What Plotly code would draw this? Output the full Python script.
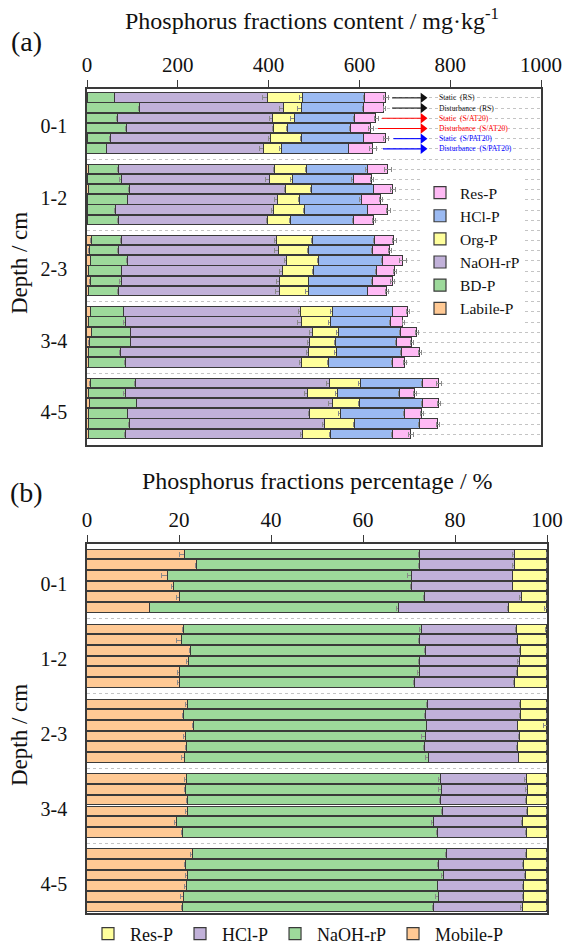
import plotly.graph_objects as go

# ---------------- data ----------------
depths = ["0-1", "1-2", "2-3", "3-4", "4-5"]
treatments = ["Static  (RS)", "Disturbance  (RS)", "Static  (S/AT20)",
              "Disturbance  (S/AT20)", "Static  (S/PAT20)", "Disturbance  (S/PAT20)"]
treatment_colors = ["#111111", "#111111", "#ff0000", "#ff0000", "#0000ff", "#0000ff"]

# Panel (a): content, mg/kg  (6 treatments per depth, depths 0-1 ... 4-5)
labile_p = [2, 1, 1, 1, 3, 1,   5, 2, 5, 2, 3, 2,   10, 6, 8, 4, 8, 5,
            8, 5, 12, 6, 4, 4,  8, 5, 7, 4, 4, 4]
bd_p = [60, 116, 67, 86, 50, 44,   66, 74, 90, 89, 61, 69,   66, 65, 83, 74, 68, 66,
        74, 80, 86, 91, 71, 81,   100, 81, 104, 87, 91, 82]
naoh_rp = [336, 317, 341, 325, 352, 344,   343, 326, 344, 329, 348, 327,
           342, 351, 349, 353, 348, 353,   390, 388, 399, 395, 413, 388,
           428, 401, 431, 401, 430, 390]
org_p = [77, 39, 50, 30, 68, 40,   70, 51, 56, 50, 69, 51,   79, 68, 72, 68, 66, 65,
         69, 64, 59, 57, 63, 59,   67, 65, 60, 68, 66, 61]
hcl_p = [138, 138, 132, 139, 138, 149,   134, 134, 138, 136, 139, 138,
         138, 139, 140, 140, 140, 131,   134, 132, 136, 134, 143, 142,
         137, 137, 138, 140, 142, 138]
res_p = [46, 44, 46, 45, 48, 52,   45, 41, 41, 42, 44, 45,   42, 39, 44, 40, 43, 41,
         32, 28, 35, 33, 40, 26,   35, 34, 35, 38, 40, 39]

labile_err = [1, 1, 1, 1, 1, 1,  1, 1, 1, 1, 1, 1,  2, 2, 1, 1, 2, 1,
              1, 1, 2, 2, 1, 1,  2, 1, 1, 1, 1, 1]
bd_err = [2, 3, 3, 3, 4, 2,  3, 5, 4, 2, 3, 3,  3, 3, 4, 2, 5, 3,
          2, 4, 3, 2, 3, 3,  3, 5, 2, 2, 3, 4]
naoh_err = [12, 10, 6, 4, 5, 10,  3, 8, 4, 6, 5, 3,  6, 8, 5, 8, 6, 9,
            7, 9, 8, 6, 5, 6,  9, 7, 10, 4, 6, 5]
org_err = [6, 10, 10, 3, 3, 6,  3, 5, 3, 4, 5, 3,  3, 5, 4, 3, 3, 8,
           4, 5, 6, 3, 5, 3,  6, 4, 3, 5, 4, 2]
hcl_err = [4, 4, 3, 3, 3, 3,  4, 5, 3, 5, 3, 3,  4, 3, 3, 3, 3, 3,
           3, 3, 3, 3, 3, 3,  3, 3, 3, 3, 3, 4]
res_err = [5, 3, 4, 5, 5, 7,  7, 3, 6, 3, 4, 3,  4, 3, 8, 3, 4, 3,
           4, 3, 3, 3, 3, 3,  5, 3, 3, 4, 3, 6]

# Panel (b): percentage, %
mobile_pct = [21.3, 24.0, 17.5, 18.9, 20.2, 13.8,   21.1, 20.6, 22.5, 22.2, 20.2, 20.2,
              22.0, 21.1, 23.3, 21.5, 21.7, 21.3,   21.8, 21.5, 22.0, 22.0, 19.6, 20.9,
              23.1, 21.5, 22.0, 21.8, 21.1, 20.9]
naoh_pct = [51.1, 48.4, 53.1, 51.7, 53.3, 54.0,   51.7, 51.8, 51.1, 50.2, 52.2, 51.1,
            52.2, 52.5, 50.7, 52.1, 51.8, 53.0,   55.2, 55.6, 55.0, 55.3, 55.8, 55.5,
            55.1, 55.1, 55.5, 54.6, 55.4, 54.5]
hcl_pct = [20.6, 20.6, 22.1, 22.1, 21.0, 23.9,   20.6, 21.2, 20.7, 21.7, 21.2, 21.7,
           20.1, 20.7, 19.8, 20.5, 20.1, 19.7,   18.6, 18.8, 18.6, 18.6, 19.3, 19.2,
           17.4, 18.5, 17.9, 18.5, 18.4, 19.3]
res_pct = [7.0, 7.0, 7.3, 7.3, 5.5, 8.3,   6.6, 6.4, 5.7, 5.9, 6.4, 7.0,
           5.7, 5.7, 6.2, 5.9, 6.4, 6.0,   4.4, 4.1, 4.4, 4.1, 5.3, 4.4,
           4.4, 4.9, 4.6, 5.1, 5.1, 5.3]

mobile_err = [1.2, 0.4, 1.2, 0.5, 0.7, 0.3,  0.3, 1.1, 0.3, 0.6, 0.5, 0.6,
              0.6, 0.3, 0.4, 0.6, 0.3, 0.8,  0.6, 0.3, 0.4, 0.5, 0.6, 0.4,
              0.7, 0.3, 0.5, 0.5, 0.7, 0.3]
naoh_pct_err = [0.3, 0.3, 0.9, 0.3, 0.3, 0.6,  0.6, 0.3, 0.3, 0.3, 0.6, 0.3,
                0.3, 0.3, 0.3, 0.8, 0.3, 0.8,  0.5, 0.6, 0.3, 0.3, 0.6, 0.4,
                0.3, 0.4, 0.5, 0.3, 0.8, 0.3]
hcl_pct_err = [0.4, 0.6, 0.3, 0.3, 0.5, 0.3,  0.3, 0.3, 0.3, 0.6, 0.3, 0.3,
               0.3, 0.3, 0.3, 0.3, 0.3, 0.3,  0.4, 0.5, 0.3, 0.3, 0.3, 0.3,
               0.3, 0.5, 0.4, 0.3, 0.3, 0.4]
res_pct_err = [0.2, 0.2, 0.2, 0.2, 0.2, 0.5,  0.4, 0.2, 0.2, 0.2, 0.2, 0.2,
               0.2, 0.2, 0.7, 0.2, 0.2, 0.2,  0.2, 0.2, 0.2, 0.2, 0.2, 0.2,
               0.2, 0.2, 0.2, 0.2, 0.2, 0.2]

# arrows for the first depth (start of arrow, tip, text start; mg/kg)
arrow_start = [672, 672, 650, 641, 675, 652]
arrow_tip = 752
label_x = 770

# ---------------- styling ----------------
FONT = "Times New Roman, Liberation Serif, Tinos, serif"
C_PEACH = "#FFC994"
C_GREEN = "#9DD99B"
C_LAV = "#C1B1D9"
C_YEL = "#FFFF9C"
C_BLUE = "#9BBAF2"
C_PINK = "#FFBAF5"
EDGE = "#3a3a3a"

n_per = len(treatments)
slots = [g * (n_per + 1) + i for g in range(len(depths)) for i in range(n_per)]
label_pos = [g * (n_per + 1) + (n_per - 1) / 2 + 0.3 for g in range(len(depths))]
all_slots = list(range(len(depths) * (n_per + 1)))

fig = go.Figure()

series_a = [("Labile-P", labile_p, labile_err, C_PEACH),
            ("BD-P", bd_p, bd_err, C_GREEN),
            ("NaOH-rP", naoh_rp, naoh_err, C_LAV),
            ("Org-P", org_p, org_err, C_YEL),
            ("HCl-P", hcl_p, hcl_err, C_BLUE),
            ("Res-P", res_p, res_err, C_PINK)]
for name, vals, err, col in series_a:
    fig.add_trace(go.Bar(
        x=vals, y=slots, orientation="h", name=name, width=0.92,
        marker=dict(color=col, line=dict(color=EDGE, width=1.2)),
        error_x=dict(type="data", array=err, color="#8a8a8a", thickness=1, width=2.5),
        xaxis="x", yaxis="y", legend="legend"))

series_b = [("Mobile-P", mobile_pct, mobile_err, C_PEACH),
            ("NaOH-rP", naoh_pct, naoh_pct_err, C_GREEN),
            ("HCl-P", hcl_pct, hcl_pct_err, C_LAV),
            ("Res-P", res_pct, res_pct_err, C_YEL)]
for name, vals, err, col in series_b:
    fig.add_trace(go.Bar(
        x=vals, y=slots, orientation="h", name=name, width=0.9,
        marker=dict(color=col, line=dict(color=EDGE, width=1.2)),
        error_x=dict(type="data", array=err, color="#8a8a8a", thickness=1, width=2.5),
        xaxis="x2", yaxis="y2", legend="legend2"))

# arrows pointing from the first-depth bars to their treatment labels
for i, col in enumerate(treatment_colors):
    yv = slots[i]
    fig.add_trace(go.Scatter(
        x=[arrow_start[i], arrow_tip - 12], y=[yv, yv], mode="lines",
        line=dict(color=col, width=1.1), showlegend=False, hoverinfo="skip",
        xaxis="x", yaxis="y"))
    fig.add_trace(go.Scatter(
        x=[arrow_tip - 12], y=[yv], mode="markers",
        marker=dict(symbol="triangle-right", size=9, color=col, line=dict(width=0)),
        showlegend=False, hoverinfo="skip", xaxis="x", yaxis="y"))

W, H = 564, 947
def px(v):
    return v / W
def py(v):
    return 1 - v / H

xcommon = dict(side="top", showline=True, linecolor=EDGE, linewidth=1.5, mirror=True,
               ticks="outside", ticklen=7, tickcolor=EDGE, showgrid=False, zeroline=False,
               tickfont=dict(family=FONT, size=21, color="#111"))
ycommon = dict(showline=True, linecolor=EDGE, linewidth=1.5, mirror=True,
               tickmode="array", tickvals=label_pos, ticktext=depths, ticks="",
               ticklabelstandoff=14, showgrid=False, zeroline=False,
               tickfont=dict(family=FONT, size=20, color="#111"),
               minor=dict(tickmode="array", tickvals=all_slots, showgrid=True,
                          gridcolor="#c4c4c4", griddash="dot", gridwidth=1, ticks=""))

fig.update_layout(
    width=W, height=H, barmode="stack", bargap=0,
    paper_bgcolor="white", plot_bgcolor="white",
    margin=dict(l=0, r=0, t=0, b=0, autoexpand=False),
    font=dict(family=FONT, color="#111"),
    xaxis=dict(domain=[px(87), px(541)], range=[0, 1000], tickvals=[0, 200, 400, 600, 800, 1000],
               anchor="y", **xcommon),
    yaxis=dict(domain=[py(445), py(89)], range=[34.05, -0.87], anchor="x", **ycommon),
    xaxis2=dict(domain=[px(87), px(547)], range=[0, 100], tickvals=[0, 20, 40, 60, 80, 100],
                anchor="y2", **xcommon),
    yaxis2=dict(domain=[py(913), py(544)], range=[33.5, -0.98], anchor="x2", **ycommon),
    legend=dict(x=px(420), y=py(176), xanchor="left", yanchor="top", traceorder="reversed",
                bgcolor="white", font=dict(family=FONT, size=15.5, color="#111"),
                itemwidth=30),
    legend2=dict(orientation="h", x=px(86), y=py(934), xanchor="left", yanchor="middle",
                 traceorder="reversed", bgcolor="rgba(0,0,0,0)",
                 font=dict(family=FONT, size=18, color="#111"), itemwidth=34),
)

def paper_text(text, x, y, size, angle=0):
    return dict(text=text, xref="paper", yref="paper", x=px(x), y=py(y),
                xanchor="center", yanchor="middle", showarrow=False, textangle=angle,
                font=dict(family=FONT, size=size, color="#111"))

ann = [
    paper_text("Phosphorus fractions content / mg·kg<sup>-1</sup>", 312, 19, 24),
    paper_text("Phosphorus fractions percentage / %", 317, 481, 24),
    paper_text("(a)", 26, 42, 28),
    paper_text("(b)", 26, 492, 28),
    paper_text("Depth / cm", 19, 263, 23, -90),
    paper_text("Depth / cm", 19, 735, 23, -90),
]

for i, (label, col) in enumerate(zip(treatments, treatment_colors)):
    ann.append(dict(text=label, xref="x", yref="y", x=label_x, y=slots[i], xanchor="left",
                    yanchor="middle", showarrow=False, font=dict(family=FONT, size=7.6, color=col)))

fig.update_layout(annotations=ann)
fig.write_html("out.html")
